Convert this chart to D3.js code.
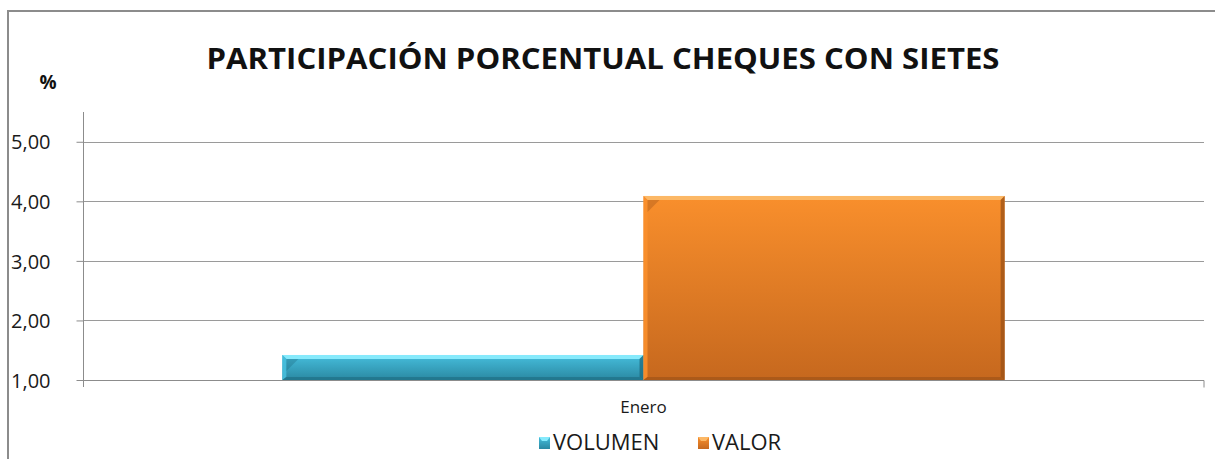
<!DOCTYPE html>
<html>
<head>
<meta charset="utf-8">
<script src="https://cdn.jsdelivr.net/npm/d3@7"></script>
<style>
  body { margin: 0; background: #fff; }
  svg { display: block; }
</style>
</head>
<body>
<script>
const categories = ["Enero"];
const seriesNames = ["VOLUMEN", "VALOR"];
const volumen = [1.42];
const valor = [4.09];
const yTicks = [1, 2, 3, 4, 5];

const W = 1215, H = 459;
const plot = { left: 83, right: 1204, top: 112, bottom: 380 };

const svg = d3.select("body").append("svg")
  .attr("width", W)
  .attr("height", H);

const defs = svg.append("defs");
const colors = {
  VOLUMEN: { top: "#46bedc", bottom: "#2a88a2", hi: "#86eafc", dark: "#1d6b80" },
  VALOR: { top: "#f98f2c", bottom: "#c6681e", hi: "#fcb866", dark: "#9a5016" }
};
seriesNames.forEach(name => {
  let g = defs.append("linearGradient")
    .attr("id", "grad-" + name)
    .attr("x1", 0).attr("y1", 0).attr("x2", 0).attr("y2", 1);
  g.append("stop").attr("offset", "0%").attr("stop-color", colors[name].top);
  g.append("stop").attr("offset", "100%").attr("stop-color", colors[name].bottom);
});

// outer frame
svg.append("rect")
  .attr("x", 8).attr("y", 11)
  .attr("width", W + 20).attr("height", H + 20)
  .attr("fill", "none")
  .attr("stroke", "#8c8c8c")
  .attr("stroke-width", 2);

const y = d3.scaleLinear().domain([1, 5.5]).range([plot.bottom, plot.top]);
const x0 = d3.scaleBand().domain(categories).range([plot.left, plot.right]).paddingOuter(0.276).paddingInner(0);
const x1 = d3.scaleBand().domain(seriesNames).range([0, x0.bandwidth()]);

// gridlines
svg.append("g")
  .selectAll("line")
  .data(yTicks.filter(d => d > 1))
  .enter()
  .append("line")
  .attr("x1", plot.left).attr("x2", plot.right)
  .attr("y1", d => Math.round(y(d)) + 0.5)
  .attr("y2", d => Math.round(y(d)) + 0.5)
  .attr("stroke", "#9a9a9a")
  .attr("stroke-width", 1.2);

// y axis
const yAxis = svg.append("g")
  .attr("transform", `translate(${plot.left + 0.5},0)`)
  .call(d3.axisLeft(y).tickValues(yTicks).tickSize(7).tickPadding(26)
    .tickFormat(d => d3.format(".2f")(d).replace(".", ",")));
yAxis.select(".domain").attr("stroke", "#8c8c8c").attr("d", `M0,${plot.top}V${plot.bottom + 7}`);
yAxis.selectAll(".tick line").attr("stroke", "#8c8c8c");
yAxis.selectAll(".tick text")
  .attr("fill", "#1a1a1a")
  .attr("dy", "0.36em")
  .style("font-family", "'Open Sans', sans-serif")
  .style("font-size", "20px");

// x axis
const xAxis = svg.append("g")
  .attr("transform", `translate(0,${Math.round(plot.bottom) + 0.5})`)
  .call(d3.axisBottom(x0).tickSize(0).tickPadding(20));
xAxis.select(".domain").attr("stroke", "#8c8c8c").attr("d", `M${plot.left},0H${plot.right}V7`);
xAxis.selectAll(".tick text")
  .attr("fill", "#1a1a1a")
  .style("font-family", "'Open Sans', sans-serif")
  .style("font-size", "17px");

// bars
const rows = categories.map((c, i) => ({ cat: c, values: [
  { name: "VOLUMEN", value: volumen[i] },
  { name: "VALOR", value: valor[i] }
] }));

const bars = svg.append("g")
  .selectAll("g")
  .data(rows)
  .enter()
  .append("g")
  .attr("transform", d => `translate(${x0(d.cat)},0)`)
  .selectAll("g")
  .data(d => d.values)
  .enter()
  .append("g");

const e = 4; // bevel edge
bars.append("rect")
  .attr("x", d => x1(d.name))
  .attr("y", d => y(d.value))
  .attr("width", x1.bandwidth())
  .attr("height", d => y(1) - y(d.value))
  .attr("fill", d => `url(#grad-${d.name})`);

// top bevel
bars.append("path")
  .attr("d", d => {
    let xa = x1(d.name), xb = xa + x1.bandwidth(), yt = y(d.value);
    return `M${xa},${yt}H${xb}L${xb - e},${yt + e}H${xa + e}Z`;
  })
  .attr("fill", d => colors[d.name].hi);
// left bevel
bars.append("path")
  .attr("d", d => {
    let xa = x1(d.name), yt = y(d.value), yb = y(1);
    return `M${xa},${yt}L${xa + e},${yt + e}V${yb - 3}L${xa},${yb}Z`;
  })
  .attr("fill", d => colors[d.name].top)
  .attr("opacity", 0.9);
// top-left corner facet
bars.append("path")
  .attr("d", d => {
    let xa = x1(d.name), yt = y(d.value);
    return `M${xa + e},${yt + e}L${xa + 16},${yt + e}L${xa + e},${yt + 16}Z`;
  })
  .attr("fill", d => colors[d.name].dark)
  .attr("opacity", 0.35);
// right bevel
bars.append("path")
  .attr("d", d => {
    let xb = x1(d.name) + x1.bandwidth(), yt = y(d.value), yb = y(1);
    return `M${xb},${yt}L${xb - e},${yt + e}V${yb - 3}L${xb},${yb}Z`;
  })
  .attr("fill", d => colors[d.name].dark)
  .attr("opacity", 0.75);
// bottom bevel
bars.append("path")
  .attr("d", d => {
    let xa = x1(d.name), xb = xa + x1.bandwidth(), yb = y(1);
    return `M${xa},${yb}H${xb}L${xb - e},${yb - 3}H${xa + e}Z`;
  })
  .attr("fill", d => colors[d.name].dark)
  .attr("opacity", 0.6);

// title
svg.append("text")
  .attr("x", 603).attr("y", 69)
  .attr("text-anchor", "middle")
  .style("font-family", "'Open Sans', sans-serif")
  .style("font-weight", "bold")
  .style("font-size", "28px")
  .attr("fill", "#111")
  .attr("textLength", 793)
  .attr("lengthAdjust", "spacingAndGlyphs")
  .text("PARTICIPACIÓN PORCENTUAL CHEQUES CON SIETES");

svg.append("text")
  .attr("x", 48).attr("y", 89)
  .attr("text-anchor", "middle")
  .style("font-family", "'Open Sans', sans-serif")
  .style("font-weight", "bold")
  .style("font-size", "19px")
  .attr("fill", "#111")
  .text("%");

// legend
const legendX = [539, 698];
const legend = svg.append("g")
  .selectAll("g")
  .data(seriesNames)
  .enter()
  .append("g")
  .attr("transform", (d, i) => `translate(${legendX[i]},437)`);
legend.append("rect")
  .attr("width", 11).attr("height", 12)
  .attr("fill", d => `url(#grad-${d})`);
legend.append("path")
  .attr("d", "M0,0H11L8,4H3Z")
  .attr("fill", d => colors[d].hi);
legend.append("text")
  .attr("x", 14).attr("y", 13)
  .style("font-family", "'Open Sans', sans-serif")
  .style("font-size", "22px")
  .attr("fill", "#1a1a1a")
  .text(d => d);
</script>
</body>
</html>
